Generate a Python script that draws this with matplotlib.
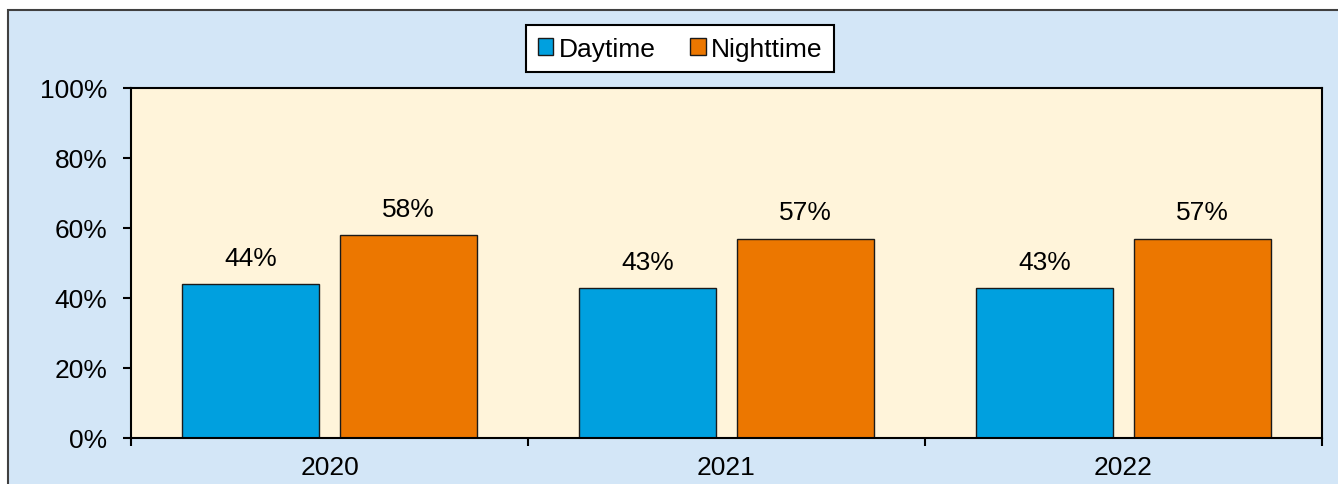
import matplotlib
matplotlib.use('Agg')
import matplotlib.pyplot as plt
import numpy as np
from matplotlib.patches import Rectangle

years = ['2020', '2021', '2022']
daytime = [44, 43, 43]
nighttime = [58, 57, 57]
series_names = ['Daytime', 'Nighttime']
yticks = [0, 20, 40, 60, 80, 100]

W, H = 1338, 485
FS = 19
plt.rcParams['font.family'] = ['Liberation Sans', 'DejaVu Sans']

fig = plt.figure(figsize=(W / 100, H / 100), dpi=100)
fig.patch.set_facecolor('white')

# outer light-blue chart frame (runs off right/bottom edges)
fig.patches.append(Rectangle((8 / W, -0.2), 1.0, 1.2 - 11 / H,
                             transform=fig.transFigure, facecolor='#D3E6F7',
                             edgecolor='#404040', linewidth=1.5, zorder=-5))

ax = fig.add_axes([131 / W, (H - 439) / H, (1322 - 131) / W, (439 - 89) / H])
ax.set_zorder(1)
ax.set_facecolor('#FFF4DA')

x = np.arange(len(years))
off = 0.199
bw = 0.345
b1 = ax.bar(x - off, daytime, bw, color='#00A0DF', edgecolor='#1a1a1a',
            linewidth=1.0, label=series_names[0], zorder=2)
b2 = ax.bar(x + off, nighttime, bw, color='#EC7700', edgecolor='#1a1a1a',
            linewidth=1.0, label=series_names[1], zorder=2)

for bars, vals in ((b1, daytime), (b2, nighttime)):
    for b, v in zip(bars, vals):
        ax.text(b.get_x() + b.get_width() / 2, v + 4.0, f'{v}%',
                ha='center', va='bottom', fontsize=FS, color='black')

ax.set_xlim(-0.5, len(years) - 0.5)
ax.set_ylim(0, 100)
ax.set_yticks(yticks)
ax.set_yticklabels([f'{t}%' for t in yticks], fontsize=FS)
ax.tick_params(axis='y', length=6, width=1.5, pad=11, direction='out')

# category labels centred, tick marks on category boundaries
ax.set_xticks(x)
ax.set_xticklabels(years, fontsize=FS)
ax.tick_params(axis='x', length=0, pad=12)
ax.set_xticks(np.arange(len(years) + 1) - 0.5, minor=True)
ax.tick_params(axis='x', which='minor', length=6, width=1.5, direction='out')

for s in ax.spines.values():
    s.set_linewidth(1.5)
    s.set_color('black')

leg = fig.legend(handles=[b1, b2], loc='center',
                 bbox_to_anchor=(680 / W, 1 - 49.5 / H), ncol=2,
                 fontsize=FS, frameon=True, fancybox=False, edgecolor='black',
                 facecolor='white', framealpha=1,
                 handlelength=0.6, handleheight=0.6, handletextpad=0.2,
                 columnspacing=1.3, borderpad=0.45, borderaxespad=0)
leg.get_frame().set_linewidth(1.5)
leg.set_zorder(5)

fig.savefig('out.png', dpi=100)
